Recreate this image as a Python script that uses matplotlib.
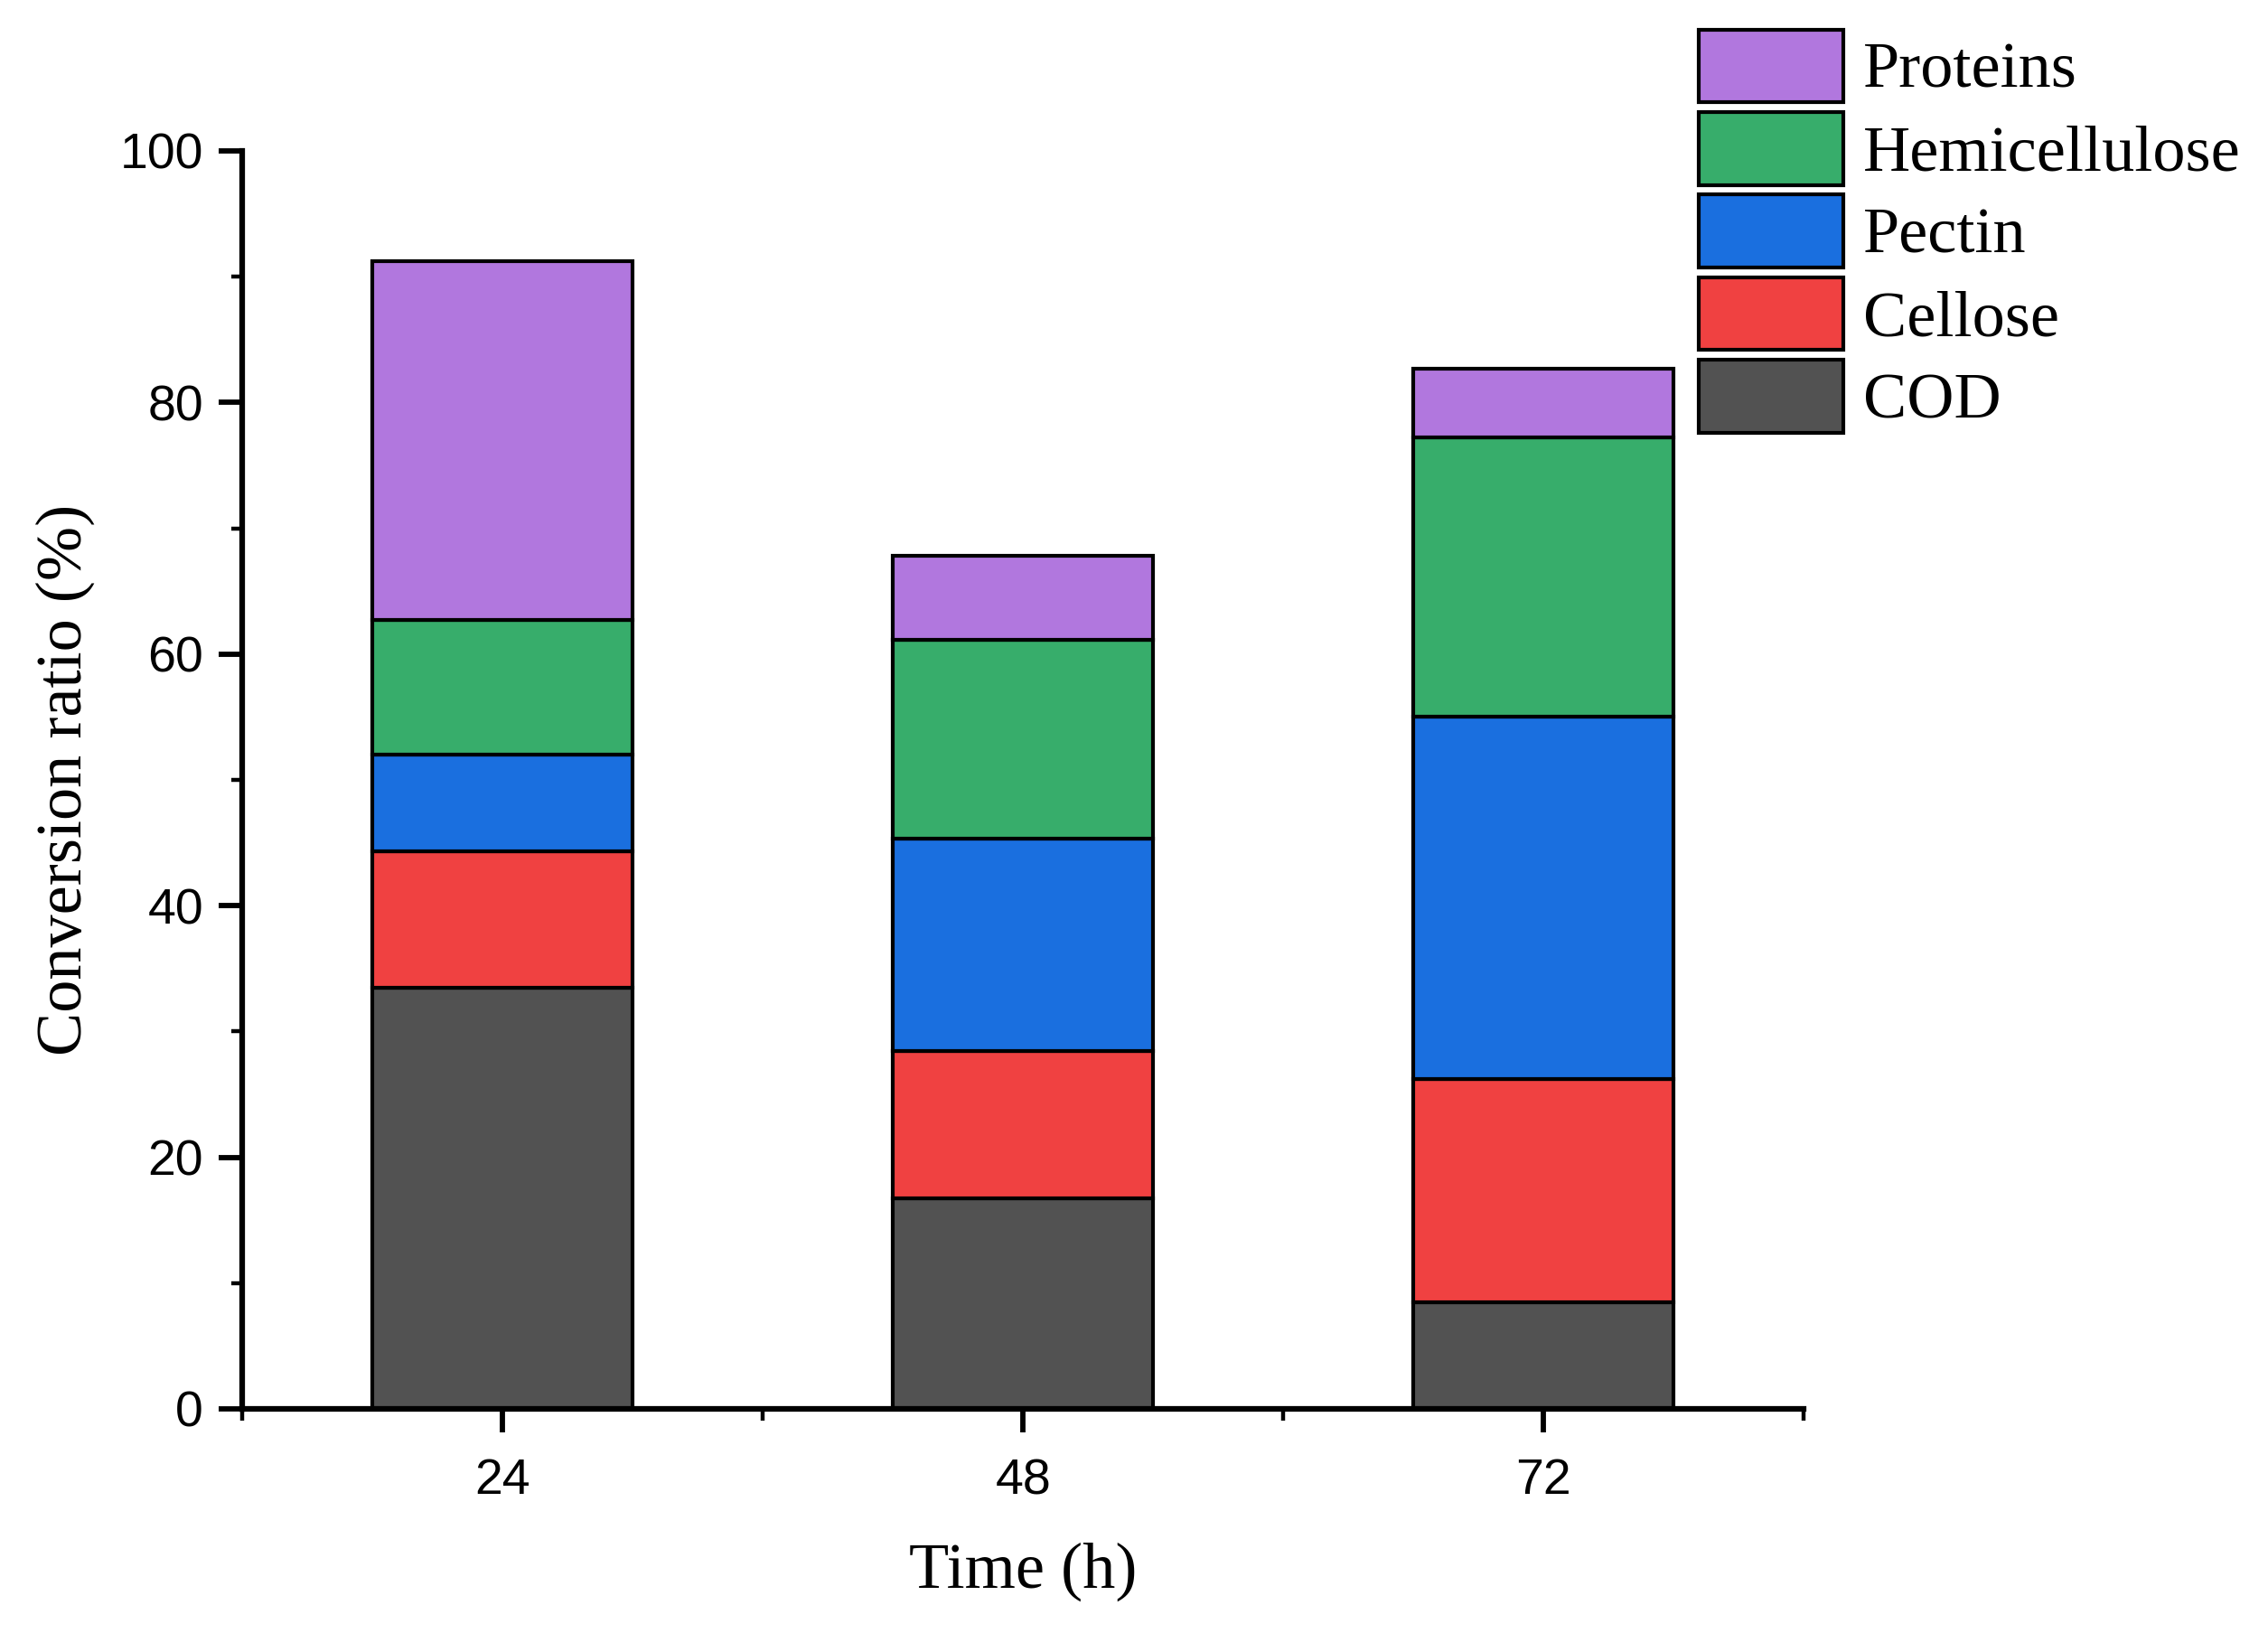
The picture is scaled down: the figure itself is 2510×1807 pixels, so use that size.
import matplotlib
matplotlib.use('Agg')
import matplotlib.pyplot as plt
import numpy as np

# data (segment heights, %)
times = ['24', '48', '72']
series = ['COD', 'Cellose', 'Pectin', 'Hemicellulose', 'Proteins']
cod = [33.5, 16.7, 8.5]
cellose = [10.8, 11.75, 17.7]
pectin = [7.7, 16.85, 28.8]
hemicellulose = [10.7, 15.8, 22.2]
proteins = [28.5, 6.7, 5.5]
colors = ['#525252', '#F04141', '#1A6FDF', '#37AD6B', '#B177DE']

values = [cod, cellose, pectin, hemicellulose, proteins]

fig = plt.figure(figsize=(25.10, 18.07), dpi=100)
ax = fig.add_axes([0.1068, 0.1373, 0.6885, 0.7703])

x = np.arange(1, len(times) + 1)
bottom = np.zeros(len(times))
handles = []
for name, vals, c in zip(series, values, colors):
    b = ax.bar(x, vals, width=0.5, bottom=bottom, color=c, edgecolor='black',
               linewidth=3.0, label=name, zorder=2)
    handles.append(b)
    bottom += np.array(vals)

ax.set_xlim(0.5, 3.5)
ax.set_ylim(0, 100)
ax.set_xticks(x)
ax.set_xticklabels(times)
ax.set_xticks([0.5, 1.5, 2.5, 3.5], minor=True)
ax.set_yticks(np.arange(0, 101, 20))
ax.set_yticks(np.arange(10, 100, 20), minor=True)

for s in ['top', 'right']:
    ax.spines[s].set_visible(False)
for s in ['left', 'bottom']:
    ax.spines[s].set_linewidth(4.5)

ax.tick_params(which='major', direction='out', length=19, width=4.2,
               labelsize=40, pad=12)
ax.tick_params(which='minor', direction='out', length=9, width=3.2)
for lab in ax.get_xticklabels() + ax.get_yticklabels():
    lab.set_fontfamily('Liberation Sans')
ax.tick_params(axis='x', which='major', pad=20)

ax.set_xlabel('Time (h)', fontfamily='Liberation Serif', fontsize=52, labelpad=30)
ax.set_ylabel('Conversion ratio (%)', fontfamily='Liberation Serif', fontsize=52, labelpad=20)

leg = ax.legend(handles[::-1], series[::-1], loc='upper left',
                bbox_to_anchor=(0.749, 0.982), bbox_transform=fig.transFigure,
                frameon=False, prop={'family': 'Liberation Serif', 'size': 52},
                handlelength=2.22, handleheight=1.34, handletextpad=0.3,
                labelspacing=0.15, borderpad=0, borderaxespad=0)
for p in leg.get_patches():
    p.set_linewidth(3.0)

fig.savefig('out.png', dpi=100)
